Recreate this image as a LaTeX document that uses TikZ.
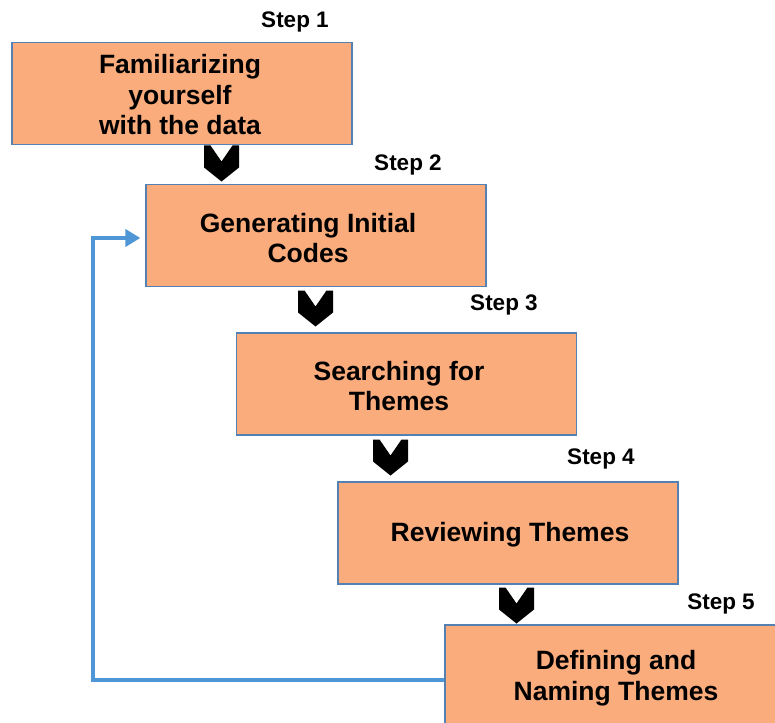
\documentclass[tikz,border=0pt]{standalone}
\usepackage{fontspec}
\setmainfont{Liberation Sans}
\usetikzlibrary{arrows.meta}
\definecolor{stepfill}{RGB}{250,172,124}
\definecolor{stepedge}{RGB}{84,128,178}
\definecolor{loopblue}{RGB}{79,150,214}
\tikzset{
  stepbox/.style={draw=stepedge, line width=1.3pt, fill=stepfill,
    minimum width=340pt, minimum height=102pt, inner sep=0pt},
  boxtext/.style={align=center, font=\bfseries\fontsize{26.5}{30.5}\selectfont},
  steplabel/.style={font=\bfseries\fontsize{22.5}{26}\selectfont, inner sep=0pt},
  chev/.style={fill=black},
  feedback/.style={draw=loopblue, line width=4.5pt, -{Triangle[length=15pt,width=17pt]}}
}
\newcommand{\chevron}[2]{%
  \fill[chev] (#1-17.5,#2) -- (#1-11,#2) -- (#1,#2+16) -- (#1+11,#2) -- (#1+17.5,#2)
    -- (#1+17.5,#2+22) -- (#1,#2+36) -- (#1-17.5,#2+22) -- cycle;}
\begin{document}
\begin{tikzpicture}[x=1pt,y=-1pt]
  \useasboundingbox (0,0) rectangle (775,722);

  % process boxes
  \node[stepbox] (b1) at (182,93.5) {};
  \node[stepbox] (b2) at (316,235.5) {};
  \node[stepbox] (b3) at (406.5,384) {};
  \node[stepbox] (b4) at (508,533) {};
  \node[stepbox] (b5) at (615,676) {};

  % box captions
  \node[boxtext] (t1) at (180,95) {Familiarizing\\yourself\\with the data};
  \node[boxtext] (t2) at (308,238) {Generating Initial\\Codes};
  \node[boxtext] (t3) at (399,386) {Searching for\\Themes};
  \node[boxtext] (t4) at (510,535) {Reviewing Themes};
  \node[boxtext] (t5) at (616,678) {Defining and\\Naming Themes};

  % step numbers
  \node[steplabel] (s1) at (295,22) {Step 1};
  \node[steplabel] (s2) at (408,165) {Step 2};
  \node[steplabel] (s3) at (504,305) {Step 3};
  \node[steplabel] (s4) at (601,459) {Step 4};
  \node[steplabel] (s5) at (721,604) {Step 5};

  % chevrons between the steps
  \chevron{221.5}{145.5}
  \chevron{315.5}{290.5}
  \chevron{390.5}{439.5}
  \chevron{516.5}{587.5}

  % feedback loop from step 5 back to step 2
  \coordinate (corner) at (93,680);
  \draw[feedback, shorten >=5pt]
    ([yshift=-4pt]b5.west) -- (corner) |- ([yshift=-2.5pt]b2.west);
\end{tikzpicture}
\end{document}
